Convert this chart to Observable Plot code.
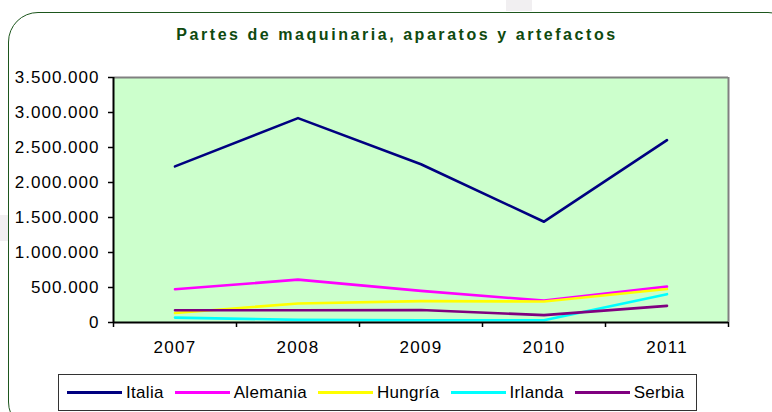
<!DOCTYPE html>
<html>
<head>
<meta charset="utf-8">
<script src="https://cdn.jsdelivr.net/npm/d3@7"></script>
<script src="https://cdn.jsdelivr.net/npm/@observablehq/plot@0.6"></script>
<style>
  html, body { margin: 0; padding: 0; background: #fff; }
  body { width: 772px; height: 412px; overflow: hidden; position: relative; font-family: "Liberation Sans", Arial, sans-serif; }
  #frame { position: absolute; left: 8px; top: 12px; width: 790px; height: 420px; border: 1.5px solid #1d561d; border-radius: 30px; box-sizing: border-box; }
  #title { position: absolute; left: 0; top: 26px; width: 794px; text-align: center; font-weight: bold; font-size: 16px; letter-spacing: 2.55px; color: #0f4a0f; white-space: nowrap; }
  #chart { position: absolute; left: 0; top: 0; }
  #chart g[aria-label="y-axis tick label"] text { letter-spacing: 1px; }
  #chart g[aria-label="x-axis tick label"] text { letter-spacing: 1.3px; }
  #legend { position: absolute; left: 58px; top: 374px; width: 639px; height: 37px; border: 1px solid #333; box-sizing: border-box; display: flex; align-items: center; padding-left: 8px; font-size: 17px; letter-spacing: 0.3px; color: #000; }
  .item { display: flex; align-items: center; margin-right: 11px; }
  .sw { width: 55px; height: 3px; margin-right: 4px; }
  .deco { position: absolute; background: #f1eff1; }
</style>
</head>
<body>
<div class="deco" style="left:506px;top:0;width:26px;height:11px"></div>
<div class="deco" style="left:0;top:215px;width:8px;height:26px"></div>
<div id="frame"></div>
<div id="title"></div>
<div id="chart"></div>
<div id="legend"></div>
<script>
const chartTitle = "Partes de maquinaria, aparatos y artefactos";
const years = [2007, 2008, 2009, 2010, 2011];
const italia   = [2230000, 2920000, 2260000, 1440000, 2605000];
const alemania = [475000, 612000, 452000, 312000, 512000];
const hungria  = [135000, 272000, 305000, 300000, 478000];
const irlanda  = [70000, 38000, 32000, 32000, 405000];
const serbia   = [175000, 175000, 178000, 105000, 238000];
const seriesNames  = ["Italia", "Alemania", "Hungría", "Irlanda", "Serbia"];
const seriesValues = [italia, alemania, hungria, irlanda, serbia];
const seriesColors = ["#000080", "#ff00ff", "#ffff00", "#00ffff", "#800080"];
const yTicks = [0, 500000, 1000000, 1500000, 2000000, 2500000, 3000000, 3500000];

document.getElementById("title").textContent = chartTitle;

const data = [];
seriesNames.forEach((name, i) => {
  years.forEach((yr, j) => data.push({serie: name, year: yr, value: seriesValues[i][j]}));
});

const fmt = d3.formatLocale({decimal: ",", thousands: ".", grouping: [3], currency: ["", ""]}).format(",");
const xMin = years[0] - 0.5, xMax = years[years.length - 1] + 0.5;
const bounds = years.map(y => y - 0.5).concat([xMax]);
const yMax = yTicks[yTicks.length - 1];

const plot = Plot.plot({
  width: 772,
  height: 412,
  marginLeft: 113,
  marginRight: 44,
  marginTop: 77,
  marginBottom: 90,
  style: {background: "transparent", fontFamily: "'Liberation Sans', Arial, sans-serif", fontSize: "17px", color: "#000", overflow: "visible"},
  x: {domain: [xMin, xMax]},
  y: {domain: [0, yMax]},
  color: {domain: seriesNames, range: seriesColors},
  marks: [
    Plot.frame({fill: "#ccffcc", stroke: null}),
    Plot.ruleY([yMax], {stroke: "#808080", strokeWidth: 2}),
    Plot.ruleX([xMax], {stroke: "#808080", strokeWidth: 2}),
    ...seriesNames.map((name, i) =>
      Plot.line(data.filter(d => d.serie === name), {x: "year", y: "value", stroke: seriesColors[i], strokeWidth: 2.6})
    ),
    Plot.ruleX([xMin], {stroke: "#000", strokeWidth: 2}),
    Plot.ruleY([0], {stroke: "#000", strokeWidth: 2}),
    Plot.axisY({ticks: yTicks, tickFormat: fmt, tickSize: 5, tickPadding: 9, stroke: "#000", strokeWidth: 1.5, label: null, fontSize: 17}),
    Plot.axisX({ticks: years, tickFormat: d => String(d), tickSize: 0, tickPadding: 18, label: null, fontSize: 17}),
    Plot.axisX({ticks: bounds, tickFormat: () => "", tickSize: 5, stroke: "#000", strokeWidth: 1.5, label: null})
  ]
});
document.getElementById("chart").appendChild(plot);

const legend = document.getElementById("legend");
seriesNames.forEach((name, i) => {
  const item = document.createElement("div");
  item.className = "item";
  const sw = document.createElement("div");
  sw.className = "sw";
  sw.style.background = seriesColors[i];
  const t = document.createElement("span");
  t.textContent = name;
  item.appendChild(sw);
  item.appendChild(t);
  legend.appendChild(item);
});
</script>
</body>
</html>
